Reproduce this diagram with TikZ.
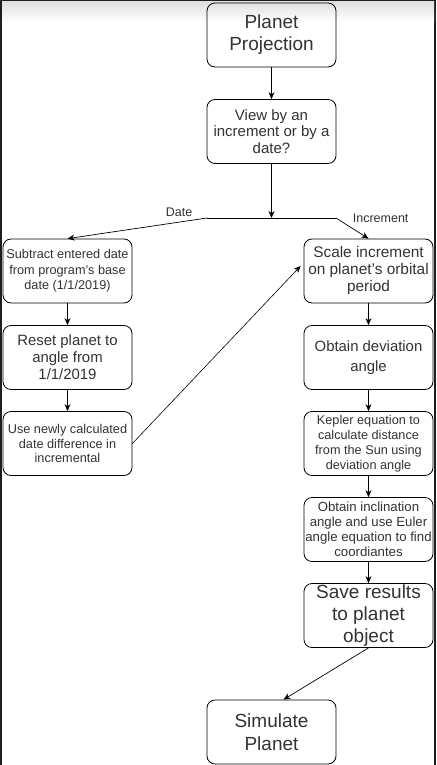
\documentclass[tikz,border=0pt]{standalone}
\usepackage{fontspec}
\setmainfont{Liberation Sans}
\usepackage{tikz}
\usetikzlibrary{arrows.meta}
\definecolor{boxtext}{HTML}{333333}
\definecolor{framegray}{HTML}{1E1E1E}
\newcommand{\fsz}[2]{\fontsize{#1}{#2}\selectfont}

\begin{document}
\begin{tikzpicture}[x=1pt, y=-1pt,
  stepbox/.style={draw, rounded corners=8pt, line width=0.8pt, minimum width=129pt, minimum height=64pt, align=center, inner sep=1pt, text=boxtext},
  flow/.style={-{Stealth[length=7pt, width=6pt]}, line width=0.7pt},
  lbl/.style={text=boxtext, font=\fsz{12.5}{14}, inner sep=1pt}]
\useasboundingbox (0,0) rectangle (436,765);
% screenshot frame
\fill[framegray] (0,0) rectangle (436,765);
\fill[white] (2,2) rectangle (434,765);
\shade[top color=black!12, bottom color=white] (2,2) rectangle (434,22);

% main column
\node[stepbox, font=\fsz{19}{22}] (proj) at (271.5,35) {Planet\\Projection};
\node[stepbox, font=\fsz{15}{16.5}] (view) at (271.5,131.5) {View by an\\increment or by a\\date?};
\node[stepbox, font=\fsz{19}{23}] (sim) at (271.5,732) {Simulate\\Planet};

% date branch
\node[stepbox, font=\fsz{12.7}{15.5}] (sub) at (67.5,271) {Subtract entered date\\from program's base\\date (1/1/2019)};
\node[stepbox, font=\fsz{14.9}{17}] (reset) at (67.5,357.5) {Reset planet to\\angle from\\1/1/2019};
\node[stepbox, font=\fsz{12.7}{14.5}] (use) at (67.5,443.5) {Use newly calculated\\date difference in\\incremental};

% increment branch
\node[stepbox, font=\fsz{15.4}{17}] (scale) at (368.5,271) {Scale increment\\on planet's orbital\\period};
\node[stepbox, font=\fsz{14.9}{20}] (dev) at (368.5,357.5) {Obtain deviation\\angle};
\node[stepbox, font=\fsz{12.7}{15}] (kepler) at (368.5,443.5) {Kepler equation to\\calculate distance\\from the Sun using\\deviation angle};
\node[stepbox, font=\fsz{13.2}{15}] (incl) at (368.5,529.5) {Obtain inclination\\angle and use Euler\\angle equation to find\\coordiantes};
\node[stepbox, font=\fsz{19}{22}] (save) at (368.5,615.5) {Save results\\to planet\\object};

% split
\coordinate (j) at (271.5,218);
\coordinate (jl) at (207,218);
\coordinate (jr) at (336,218);

\draw[flow] (proj) -- (view);
\draw[flow] (view) -- (j);
\draw[line width=0.7pt] (jl) -- (jr);
\draw[flow] (jl) -- node[lbl, pos=0.2, anchor=south, yshift=4pt] (datelbl) {Date} (sub.north);
\draw[flow] (jr) -- node[lbl, pos=0.2, anchor=west, xshift=9pt, yshift=4pt] (inclbl) {Increment} (scale.north);
\draw[flow] (sub) -- (reset);
\draw[flow] (reset) -- (use);
\draw[flow, line width=0.6pt] (use.east) -- ([xshift=-3pt, yshift=5pt]scale.west);
\draw[flow] (scale) -- (dev);
\draw[flow] (dev) -- (kepler);
\draw[flow] (kepler) -- (incl);
\draw[flow] (incl) -- (save);
\draw[flow] (save.south) -- ([xshift=12pt]sim.north);
\end{tikzpicture}
\end{document}
